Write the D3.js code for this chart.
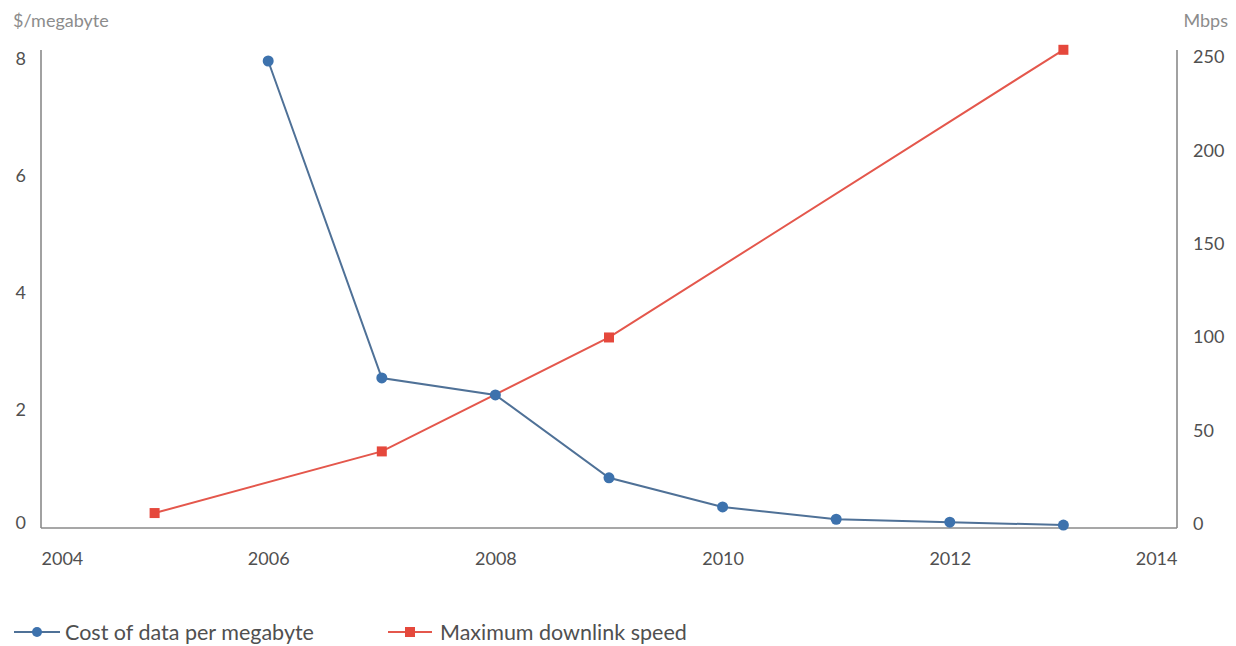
<!DOCTYPE html>
<html>
<head>
<meta charset="utf-8">
<script src="https://cdn.jsdelivr.net/npm/d3@7"></script>
<style>
  html, body { margin: 0; padding: 0; background: #fff; }
  svg { display: block; font-family: Lato, "Open Sans", sans-serif; }
</style>
</head>
<body>
<svg id="chart" width="1236" height="646"></svg>
<script>
// Cost of mobile data vs. maximum downlink speed
const costYears = [2006, 2007, 2008, 2009, 2010, 2011, 2012, 2013];
const costValues = [8.0, 2.57, 2.28, 0.86, 0.36, 0.15, 0.10, 0.05];

const speedYears = [2005, 2007, 2009, 2013];
const speedValues = [8, 41, 102, 256];

const xTicks = [2004, 2006, 2008, 2010, 2012, 2014];
const leftTicks = [0, 2, 4, 6, 8];
const rightTicks = [0, 50, 100, 150, 200, 250];

const seriesNames = ["Cost of data per megabyte", "Maximum downlink speed"];
const leftTitle = "$/megabyte";
const rightTitle = "Mbps";

const blue = "#3d72ad", blueLine = "#4f7197";
const red = "#e5483c", redLine = "#e4574c";
const axisColor = "#8a8a8a", textColor = "#505050", titleColor = "#8c8c8c";

const svg = d3.select("#chart");
const plotLeft = 41, plotRight = 1177, plotBottom = 528, plotTop = 61, axisTop = 50;

const x = d3.scaleLinear().domain([2004, 2014]).range([plotLeft, plotRight]);
const yL = d3.scaleLinear().domain([0, 8]).range([plotBottom, plotTop]);
const yR = d3.scaleLinear().domain([0, 250]).range([plotBottom, plotTop]);

// axis frames
const frame = svg.append("g").attr("stroke", axisColor).attr("stroke-width", 1.6).attr("fill", "none");
frame.append("line").attr("x1", plotLeft).attr("x2", plotLeft).attr("y1", axisTop).attr("y2", plotBottom);
frame.append("line").attr("x1", plotRight).attr("x2", plotRight).attr("y1", axisTop).attr("y2", plotBottom);
frame.append("line").attr("x1", plotLeft).attr("x2", plotRight).attr("y1", plotBottom).attr("y2", plotBottom);

// bottom axis labels
const xAxis = svg.append("g").attr("transform", `translate(0,${plotBottom})`)
  .call(d3.axisBottom(x).tickValues(xTicks).tickFormat(d3.format("d")).tickSize(0).tickPadding(24));
xAxis.select(".domain").remove();
xAxis.selectAll("text").attr("font-size", 18).attr("fill", textColor).attr("font-family", "Lato, sans-serif")
  .attr("text-anchor", d => d === 2004 ? "start" : d === 2014 ? "end" : "middle");

// left axis labels
const lAxis = svg.append("g").attr("transform", `translate(${plotLeft},0)`)
  .call(d3.axisLeft(yL).tickValues(leftTicks).tickFormat(d3.format("d")).tickSize(0).tickPadding(15));
lAxis.select(".domain").remove();
lAxis.selectAll("text").attr("font-size", 18).attr("fill", textColor).attr("font-family", "Lato, sans-serif")
  .attr("transform", d => `translate(0,${d === 0 ? -5 : -2})`);

// right axis labels
const rAxis = svg.append("g").attr("transform", `translate(${plotRight},0)`)
  .call(d3.axisRight(yR).tickValues(rightTicks).tickFormat(d3.format("d")).tickSize(0).tickPadding(16));
rAxis.select(".domain").remove();
rAxis.selectAll("text").attr("font-size", 18).attr("fill", textColor).attr("font-family", "Lato, sans-serif")
  .attr("transform", "translate(0,-4)");

// axis titles
svg.append("text").attr("x", 13).attr("y", 27).attr("font-size", 18).attr("fill", titleColor).text(leftTitle);
svg.append("text").attr("x", 1228).attr("y", 27).attr("font-size", 18).attr("fill", titleColor)
  .attr("text-anchor", "end").text(rightTitle);

// speed series (red squares)
const speed = speedYears.map((yr, i) => ({ x: yr, v: speedValues[i] }));
svg.append("path").datum(speed)
  .attr("fill", "none").attr("stroke", redLine).attr("stroke-width", 2)
  .attr("d", d3.line().x(d => x(d.x)).y(d => yR(d.v)));
svg.append("g").selectAll("rect").data(speed).join("rect")
  .attr("x", d => x(d.x) - 5).attr("y", d => yR(d.v) - 5)
  .attr("width", 10).attr("height", 10).attr("fill", red);

// cost series (blue dots)
const cost = costYears.map((yr, i) => ({ x: yr, v: costValues[i] }));
svg.append("path").datum(cost)
  .attr("fill", "none").attr("stroke", blueLine).attr("stroke-width", 2)
  .attr("d", d3.line().x(d => x(d.x)).y(d => yL(d.v)));
svg.append("g").selectAll("circle").data(cost).join("circle")
  .attr("cx", d => x(d.x)).attr("cy", d => yL(d.v)).attr("r", 5.5).attr("fill", blue);

// legend
const legendY = 632;
const lg1 = svg.append("g");
lg1.append("line").attr("x1", 14).attr("x2", 60).attr("y1", legendY).attr("y2", legendY)
  .attr("stroke", blueLine).attr("stroke-width", 2);
lg1.append("circle").attr("cx", 37).attr("cy", legendY).attr("r", 5).attr("fill", blue);
lg1.append("text").attr("x", 65).attr("y", legendY).attr("dy", "0.35em").attr("font-size", 21.5)
  .attr("fill", textColor).text(seriesNames[0]);

const lg2 = svg.append("g");
lg2.append("line").attr("x1", 388).attr("x2", 432).attr("y1", legendY).attr("y2", legendY)
  .attr("stroke", redLine).attr("stroke-width", 2);
lg2.append("rect").attr("x", 405).attr("y", legendY - 5).attr("width", 10).attr("height", 10).attr("fill", red);
lg2.append("text").attr("x", 440).attr("y", legendY).attr("dy", "0.35em").attr("font-size", 21.5)
  .attr("fill", textColor).text(seriesNames[1]);
</script>
</body>
</html>
